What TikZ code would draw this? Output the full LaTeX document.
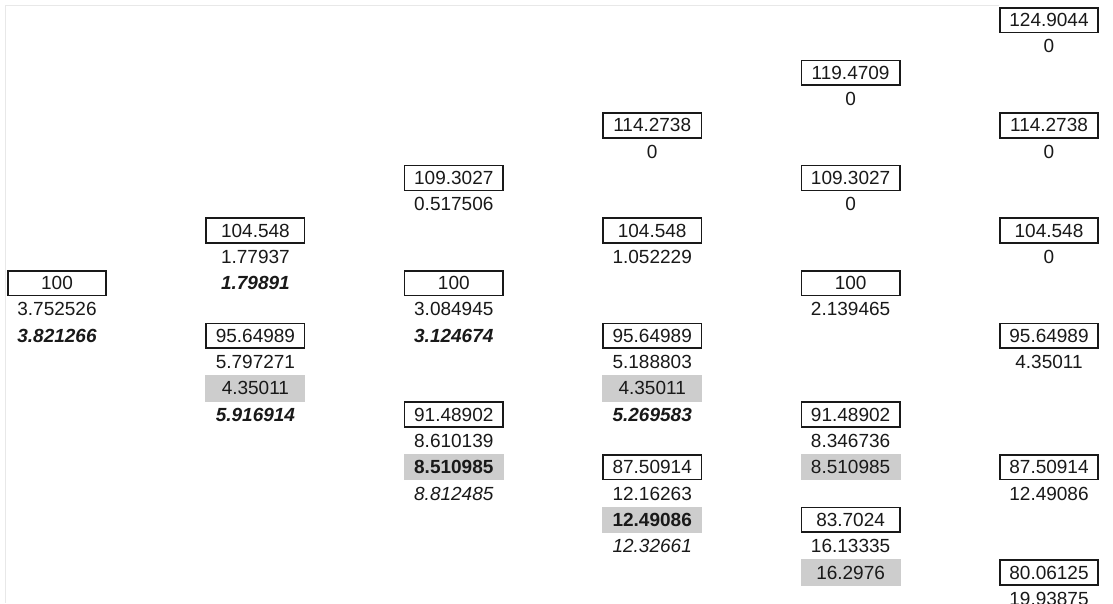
\documentclass[tikz,border=0pt]{standalone}
\usepackage{fontspec}
\setmainfont{Liberation Sans}
\definecolor{cellgray}{RGB}{205,205,205}
\definecolor{gridline}{RGB}{232,232,232}
\definecolor{ink}{RGB}{25,25,25}
\newcommand\mycell[5]{\node[#4] (#1) at ({57+198.4*#2},{20.15+26.3*#3}) {#5};}
\begin{document}
\begin{tikzpicture}[x=1pt,y=-1pt,
  base/.style={minimum width=100pt,minimum height=26.3pt,inner sep=0pt,
    font=\fontsize{19}{22}\selectfont,text=ink},
  boxcell/.style={base,draw=ink,line width=1.6pt,minimum width=98.5pt,minimum height=24.8pt},
  plain/.style={base},
  bi/.style={base,font=\fontsize{19}{22}\selectfont\bfseries\itshape},
  it/.style={base,font=\fontsize{19}{22}\selectfont\itshape},
  graycell/.style={base,fill=cellgray},
  graybold/.style={base,fill=cellgray,font=\fontsize{19}{22}\selectfont\bfseries}]
\useasboundingbox (0,0) rectangle (1113,603);
\clip (0,0) rectangle (1113,603);
\fill[white] (0,0) rectangle (1113,603);
\draw[gridline,line width=1pt] (5,603) -- (5,5) -- (999,5);
% column 0
\mycell{a0}{0}{10}{boxcell}{100}
\mycell{a1}{0}{11}{plain}{3.752526}
\mycell{a2}{0}{12}{bi}{3.821266}
% column 1
\mycell{b0}{1}{8}{boxcell}{104.548}
\mycell{b1}{1}{9}{plain}{1.77937}
\mycell{b2}{1}{10}{bi}{1.79891}
\mycell{b3}{1}{12}{boxcell}{95.64989}
\mycell{b4}{1}{13}{plain}{5.797271}
\mycell{b5}{1}{14}{graycell}{4.35011}
\mycell{b6}{1}{15}{bi}{5.916914}
% column 2
\mycell{c0}{2}{6}{boxcell}{109.3027}
\mycell{c1}{2}{7}{plain}{0.517506}
\mycell{c2}{2}{10}{boxcell}{100}
\mycell{c3}{2}{11}{plain}{3.084945}
\mycell{c4}{2}{12}{bi}{3.124674}
\mycell{c5}{2}{15}{boxcell}{91.48902}
\mycell{c6}{2}{16}{plain}{8.610139}
\mycell{c7}{2}{17}{graybold}{8.510985}
\mycell{c8}{2}{18}{it}{8.812485}
% column 3
\mycell{d0}{3}{4}{boxcell}{114.2738}
\mycell{d1}{3}{5}{plain}{0}
\mycell{d2}{3}{8}{boxcell}{104.548}
\mycell{d3}{3}{9}{plain}{1.052229}
\mycell{d4}{3}{12}{boxcell}{95.64989}
\mycell{d5}{3}{13}{plain}{5.188803}
\mycell{d6}{3}{14}{graycell}{4.35011}
\mycell{d7}{3}{15}{bi}{5.269583}
\mycell{d8}{3}{17}{boxcell}{87.50914}
\mycell{d9}{3}{18}{plain}{12.16263}
\mycell{d10}{3}{19}{graybold}{12.49086}
\mycell{d11}{3}{20}{it}{12.32661}
% column 4
\mycell{e0}{4}{2}{boxcell}{119.4709}
\mycell{e1}{4}{3}{plain}{0}
\mycell{e2}{4}{6}{boxcell}{109.3027}
\mycell{e3}{4}{7}{plain}{0}
\mycell{e4}{4}{10}{boxcell}{100}
\mycell{e5}{4}{11}{plain}{2.139465}
\mycell{e6}{4}{15}{boxcell}{91.48902}
\mycell{e7}{4}{16}{plain}{8.346736}
\mycell{e8}{4}{17}{graycell}{8.510985}
\mycell{e9}{4}{19}{boxcell}{83.7024}
\mycell{e10}{4}{20}{plain}{16.13335}
\mycell{e11}{4}{21}{graycell}{16.2976}
% column 5
\mycell{f0}{5}{0}{boxcell}{124.9044}
\mycell{f1}{5}{1}{plain}{0}
\mycell{f2}{5}{4}{boxcell}{114.2738}
\mycell{f3}{5}{5}{plain}{0}
\mycell{f4}{5}{8}{boxcell}{104.548}
\mycell{f5}{5}{9}{plain}{0}
\mycell{f6}{5}{12}{boxcell}{95.64989}
\mycell{f7}{5}{13}{plain}{4.35011}
\mycell{f8}{5}{17}{boxcell}{87.50914}
\mycell{f9}{5}{18}{plain}{12.49086}
\mycell{f10}{5}{21}{boxcell}{80.06125}
\mycell{f11}{5}{22}{plain}{19.93875}
\end{tikzpicture}
\end{document}
